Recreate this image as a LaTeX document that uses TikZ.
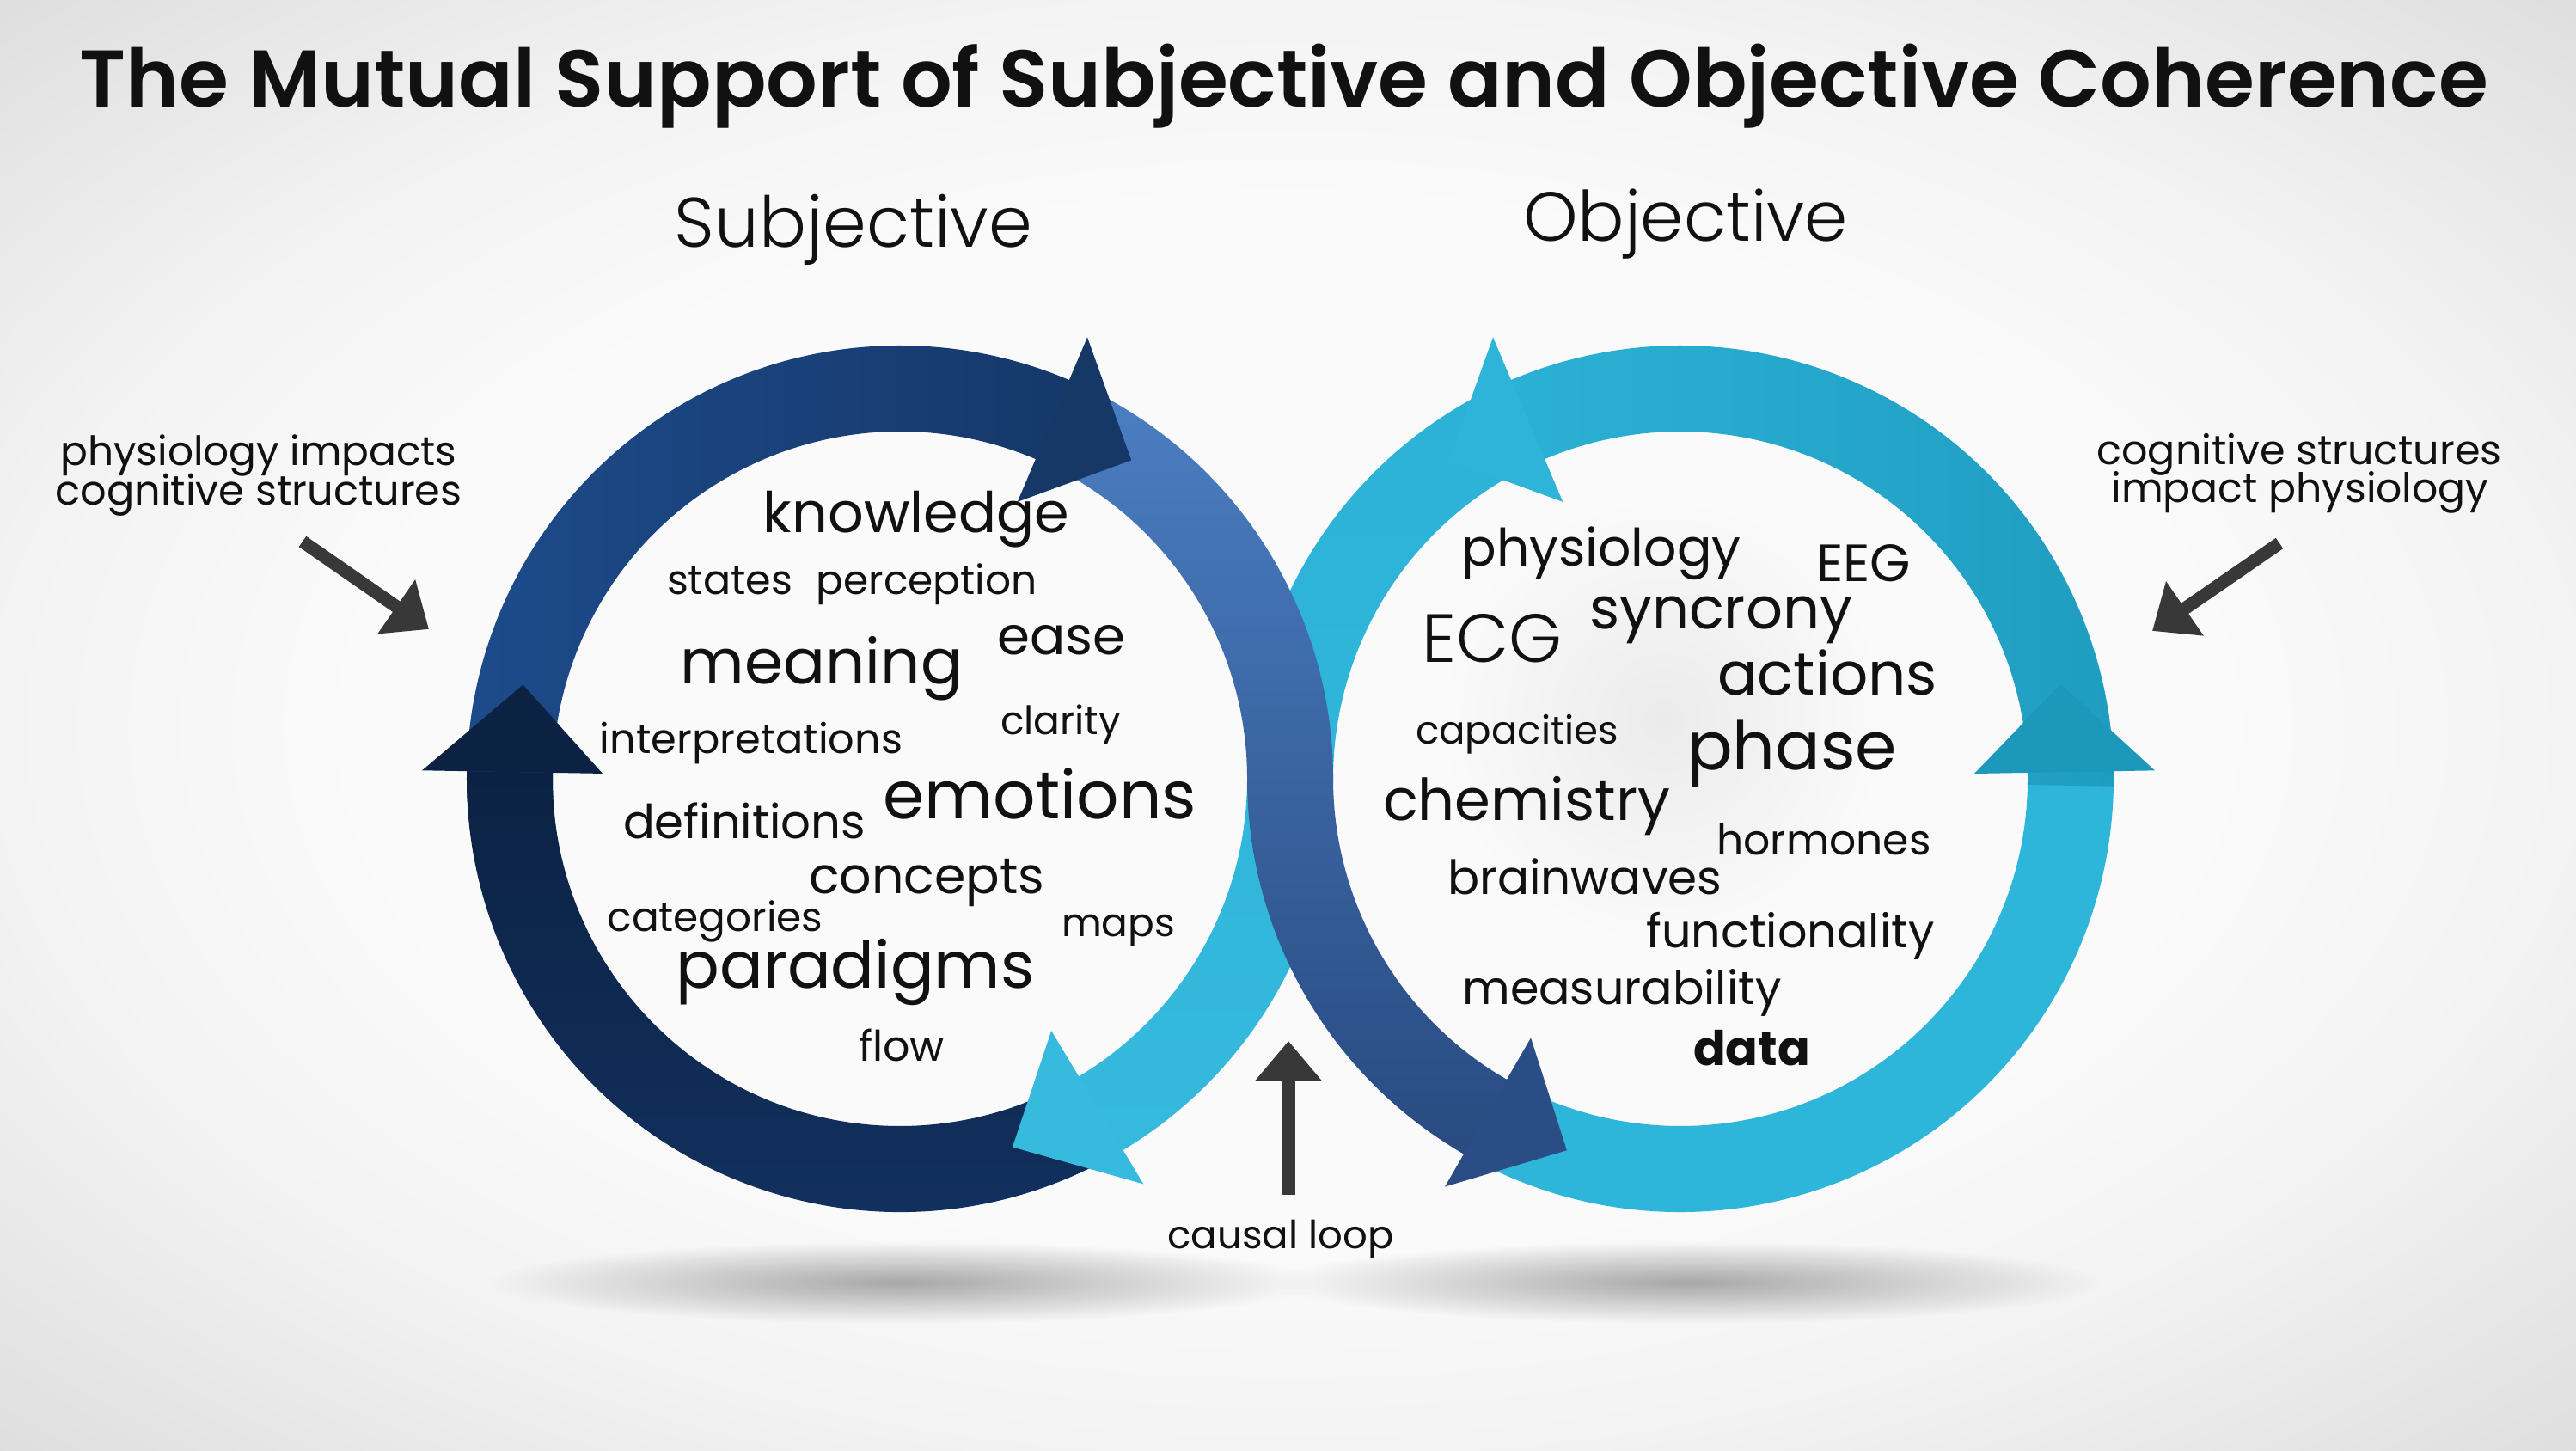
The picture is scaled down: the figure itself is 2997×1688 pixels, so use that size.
\documentclass[tikz,border=0pt]{standalone}
\usepackage{fontspec}
\usepackage{graphicx}
\setmainfont{Poppins}
\newfontfamily\titlefont{Poppins SemiBold}
\newfontfamily\headfont{Poppins Light}
\usetikzlibrary{arrows.meta,fadings,calc}
\definecolor{bgedge}{HTML}{DDDDDD}
\definecolor{bgmid}{HTML}{FAFAFA}
\definecolor{bgmidb}{HTML}{F3F3F3}
\definecolor{txt}{HTML}{111111}
\definecolor{arrowgray}{HTML}{383838}
\definecolor{darkA}{HTML}{0B2243}
\definecolor{darkB}{HTML}{133262}
\definecolor{navyA}{HTML}{1D4B8B}
\definecolor{navyB}{HTML}{16386A}
\definecolor{midA}{HTML}{4B7EC2}
\definecolor{midB}{HTML}{284A80}
\definecolor{cyanA}{HTML}{2BB2D6}
\definecolor{cyanB}{HTML}{35BADE}
\definecolor{cyanC}{HTML}{2EB6DA}
\definecolor{tealA}{HTML}{2BB1D5}
\definecolor{tealB}{HTML}{1F9DC1}
\definecolor{headNavy}{HTML}{163866}
\definecolor{headDark}{HTML}{0B2243}
\definecolor{headMid}{HTML}{2A4D85}
\definecolor{headCyan}{HTML}{36BBDF}
\definecolor{headTeal}{HTML}{1C98BB}
\definecolor{headTop}{HTML}{2DB4D8}
\pgfdeclareradialshading{bgshade}{\pgfpoint{0bp}{0bp}}{color(0bp)=(bgmid); color(18bp)=(bgmid); color(25bp)=(bgmidb); color(36bp)=(bgedge); color(50bp)=(bgedge)}
\tikzfading[name=softfade, inner color=transparent!0, outer color=transparent!100]
\newcommand\fitw[2]{\resizebox{#1pt}{!}{#2}}
\begin{document}
\begin{tikzpicture}[x=1pt,y=1pt,
  word/.style={inner sep=0pt, anchor=base, text=txt, font=\fontsize{40}{48}\selectfont},
  pointer/.style={draw=arrowgray, line width=15pt, -{Triangle[length=46pt,width=74pt]}},
]
\useasboundingbox (0,0) rectangle (2997,1688);
% background
\shade[shading=bgshade] (0,0) rectangle (2997,1688);
% floor shadows
\fill[black, opacity=0.32, path fading=softfade] (1050,196) ellipse [x radius=480pt, y radius=48pt];
\fill[black, opacity=0.32, path fading=softfade] (1965,196) ellipse [x radius=480pt, y radius=48pt];
% faint haze inside right ring
\fill[black, opacity=0.06, path fading=softfade] (1935,850) circle [radius=260pt];

\coordinate (C1) at (1047,782);
\coordinate (C2) at (1955,782);

% ---- band bodies ----
% upper navy (left ring, 183 -> 66)
\shade[left color=navyA, right color=navyB]
  ($(C1)+(183:504)$) arc[start angle=183, end angle=66, radius=504pt]
  -- ($(C1)+(66:404)$) arc[start angle=66, end angle=183, radius=404pt] -- cycle;
% dark lower (left ring, 298 -> 179)
\shade[top color=darkA, bottom color=darkB]
  ($(C1)+(298:504)$) arc[start angle=298, end angle=179, radius=504pt]
  -- ($(C1)+(179:404)$) arc[start angle=179, end angle=298, radius=404pt] -- cycle;
% right ring lower (238 -> 361)
\fill[cyanC]
  ($(C2)+(238:504)$) arc[start angle=238, end angle=361, radius=504pt]
  -- ($(C2)+(361:404)$) arc[start angle=361, end angle=238, radius=404pt] -- cycle;
% right ring upper (-1 -> 114)
\shade[left color=tealA, right color=tealB]
  ($(C2)+(-1:504)$) arc[start angle=-1, end angle=114, radius=504pt]
  -- ($(C2)+(114:404)$) arc[start angle=114, end angle=-1, radius=404pt] -- cycle;
% cyan crossing band (right ring 116 -> 180, left ring 0 -> -60)
\shade[top color=cyanA, bottom color=cyanB]
  ($(C2)+(116:504)$) arc[start angle=116, end angle=180, radius=504pt]
  arc[start angle=0, end angle=-60, radius=404pt]
  -- ($(C1)+(-60:504)$) arc[start angle=-60, end angle=0, radius=504pt]
  arc[start angle=180, end angle=116, radius=404pt] -- cycle;
% medium blue crossing band (left ring 64 -> 0, right ring 180 -> 241)
\shade[top color=midA, bottom color=midB]
  ($(C1)+(64:504)$) arc[start angle=64, end angle=0, radius=504pt]
  arc[start angle=180, end angle=241, radius=404pt]
  -- ($(C2)+(241:504)$) arc[start angle=241, end angle=180, radius=504pt]
  arc[start angle=0, end angle=64, radius=404pt] -- cycle;

% ---- arrow heads ----
\fill[headNavy] ($(C1)+(67:350)$) -- ($(C1)+(67:558)$) -- ($(C1)+(54:458)$) -- cycle;
\fill[headDark] ($(C1)+(179:346)$) -- ($(C1)+(179:556)$) -- ($(C1)+(166:452)$) -- cycle;
\fill[headMid] ($(C2)+(240:348)$) -- ($(C2)+(240:548)$) -- ($(C2)+(253:452)$) -- cycle;
\fill[headCyan] ($(C1)+(-59:342)$) -- ($(C1)+(-59:550)$) -- ($(C1)+(-73:448)$) -- cycle;
\fill[headTeal] ($(C2)+(1:342)$) -- ($(C2)+(1:552)$) -- ($(C2)+(14:456)$) -- cycle;
\fill[headTop] ($(C2)+(113:350)$) -- ($(C2)+(113:558)$) -- ($(C2)+(126:458)$) -- cycle;

% ---- title and headings ----
\node[word] (title) at (1494,1563) {\fitw{2802}{\titlefont The Mutual Support of Subjective and Objective Coherence}};
\node[word] (subj) at (993,1400) {\fitw{416}{\headfont Subjective}};
\node[word] (obj) at (1961,1407) {\fitw{378}{\headfont Objective}};

% ---- side labels ----
\node[word] (l1) at (301,1146) {\fitw{461}{physiology impacts}};
\node[word] (l2) at (301,1100) {\fitw{473}{cognitive structures}};
\node[word] (r1) at (2675,1147) {\fitw{471}{cognitive structures}};
\node[word] (r2) at (2676,1103) {\fitw{439}{impact physiology}};
\node[word] (causal) at (1490,235) {\fitw{263}{causal loop}};

% ---- pointers ----
\coordinate (La) at (352,1058); \coordinate (Lb) at (499,956);
\coordinate (Ra) at (2652,1056); \coordinate (Rb) at (2504,954);
\coordinate (Ca) at (1499,298); \coordinate (Cb) at (1499,477);
\draw[pointer] (La) -- (Lb);
\draw[pointer] (Ra) -- (Rb);
\draw[pointer] (Ca) -- (Cb);

% ---- subjective words ----
\node[word] (knowledge) at (1066,1068) {\fitw{356}{knowledge}};
\node[word] (states) at (849,996) {\fitw{146}{states}};
\node[word] (perception) at (1078,996) {\fitw{257}{perception}};
\node[word] (meaning) at (956,892) {\fitw{328}{meaning}};
\node[word] (ease) at (1235,926) {\fitw{149}{ease}};
\node[word] (clarity) at (1234,833) {\fitw{140}{clarity}};
\node[word] (interpretations) at (874,811) {\fitw{352}{interpretations}};
\node[word] (emotions) at (1210,735) {\fitw{364}{emotions}};
\node[word] (definitions) at (866,712) {\fitw{282}{definitions}};
\node[word] (concepts) at (1078,648) {\fitw{274}{concepts}};
\node[word] (categories) at (832,604) {\fitw{251}{categories}};
\node[word] (maps) at (1301,598) {\fitw{132}{maps}};
\node[word] (paradigms) at (995,538) {\fitw{417}{paradigms}};
\node[word] (flow) at (1049,453) {\fitw{100}{flow}};

% ---- objective words ----
\node[word] (physiology) at (1863,1029) {\fitw{325}{physiology}};
\node[word] (EEG) at (2168,1011) {\fitw{110}{EEG}};
\node[word] (ECG) at (1736,917) {\fitw{163}{\headfont ECG}};
\node[word] (syncrony) at (2002,956) {\fitw{306}{syncrony}};
\node[word] (actions) at (2126,879) {\fitw{256}{actions}};
\node[word] (capacities) at (1765,822) {\fitw{236}{capacities}};
\node[word] (phase) at (2085,792) {\fitw{244}{phase}};
\node[word] (chemistry) at (1776,733) {\fitw{334}{chemistry}};
\node[word] (hormones) at (2122,693) {\fitw{249}{hormones}};
\node[word] (brainwaves) at (1844,647) {\fitw{319}{brainwaves}};
\node[word] (functionality) at (2083,585) {\fitw{335}{functionality}};
\node[word] (measurability) at (1887,519) {\fitw{371}{measurability}};
\node[word] (data) at (2038,448) {\fitw{136}{\bfseries data}};
\end{tikzpicture}
\end{document}
